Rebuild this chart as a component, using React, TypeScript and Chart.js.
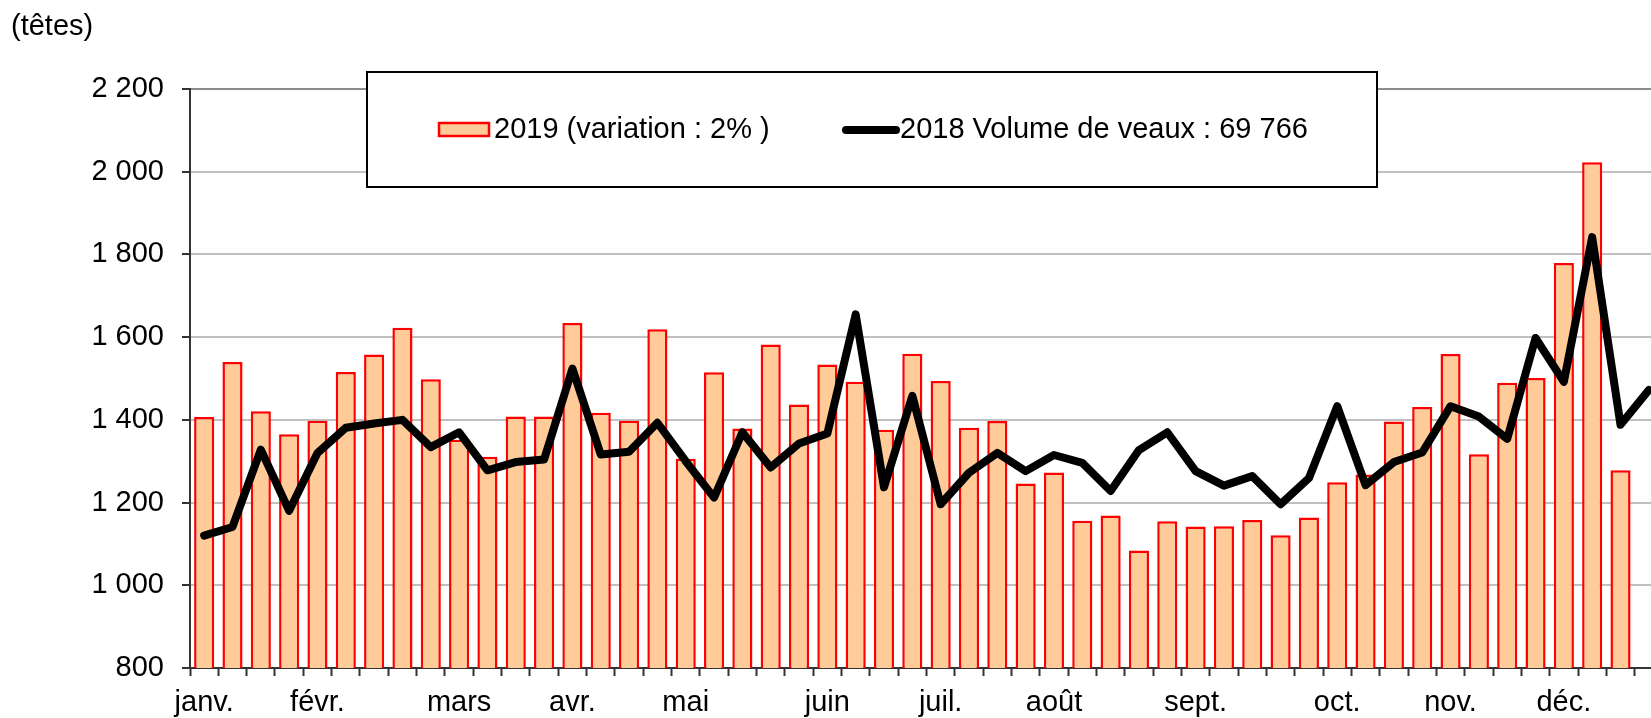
import React, { useEffect, useRef } from "react";
import { Chart, registerables } from "chart.js";

Chart.register(...registerables);

// Weekly categories (weeks 1..52)
const weeks = [
  "1", "2", "3", "4", "5", "6", "7", "8", "9", "10",
  "11", "12", "13", "14", "15", "16", "17", "18", "19", "20",
  "21", "22", "23", "24", "25", "26", "27", "28", "29", "30",
  "31", "32", "33", "34", "35", "36", "37", "38", "39", "40",
  "41", "42", "43", "44", "45", "46", "47", "48", "49", "50",
  "51", "52",
];

// Month tick labels and the week index where each is written
const monthNames = ["janv.", "févr.", "mars", "avr.", "mai", "juin", "juil.", "août", "sept.", "oct.", "nov.", "déc."];
const monthWeekIndex = [0, 4, 9, 13, 17, 22, 26, 30, 35, 40, 44, 48];

// 2019 weekly volumes (bars)
const bars2019 = [
  1407, 1540, 1421, 1365, 1398, 1516, 1558, 1623, 1498, 1352,
  1311, 1408, 1408, 1634, 1417, 1398, 1619, 1306, 1515, 1379,
  1582, 1437, 1534, 1492, 1376, 1560, 1494, 1381, 1397, 1246,
  1273, 1156, 1169, 1084, 1155, 1142, 1143, 1158, 1121, 1164,
  1249, 1268, 1396, 1431, 1559, 1317, 1490, 1501, 1779, 2023,
  1278, null,
];

// 2018 weekly volumes (line)
const line2018 = [
  1120, 1141, 1328, 1180, 1320, 1381, 1391, 1400, 1334, 1370,
  1278, 1298, 1304, 1524, 1316, 1323, 1393, 1300, 1212, 1370,
  1285, 1343, 1367, 1655, 1237, 1458, 1196, 1272, 1320, 1276,
  1315, 1296, 1228, 1327, 1370, 1276, 1241, 1264, 1196, 1259,
  1433, 1242, 1298, 1321, 1433, 1408, 1354, 1598, 1492, 1842,
  1388, 1472,
];

const yTicks = [800, 1000, 1200, 1400, 1600, 1800, 2000, 2200];

const label2019 = "2019 (variation : 2% )";
const label2018 = "2018 Volume de veaux : 69 766";
const unitLabel = "(têtes)";

const FONT = "'Liberation Sans', Arial, Helvetica, sans-serif";

const fmt = (v: number) =>
  v >= 1000 ? `${Math.floor(v / 1000)} ${String(v % 1000).padStart(3, "0")}` : String(v);

const overlayPlugin = {
  id: "overlay",
  afterDraw(chart: any) {
    const ctx = chart.ctx as CanvasRenderingContext2D;
    ctx.save();
    // unit label
    ctx.fillStyle = "#000";
    ctx.font = `29px ${FONT}`;
    ctx.textBaseline = "alphabetic";
    ctx.textAlign = "left";
    ctx.fillText(unitLabel, 11, 35);

    // legend box
    ctx.fillStyle = "#fff";
    ctx.fillRect(367, 72, 1010, 115);
    ctx.strokeStyle = "#000";
    ctx.lineWidth = 2;
    ctx.strokeRect(367, 72, 1010, 115);

    // bar swatch
    ctx.fillStyle = "#FFCC99";
    ctx.fillRect(439, 123, 50, 13);
    ctx.strokeStyle = "#FF0000";
    ctx.lineWidth = 2.5;
    ctx.strokeRect(439, 123, 50, 13);

    ctx.fillStyle = "#000";
    ctx.font = `29px ${FONT}`;
    ctx.fillText(label2019, 494, 138);

    // line swatch
    ctx.strokeStyle = "#000";
    ctx.lineWidth = 8;
    ctx.lineCap = "round";
    ctx.beginPath();
    ctx.moveTo(846, 130);
    ctx.lineTo(896, 130);
    ctx.stroke();

    ctx.fillText(label2018, 900, 138);
    ctx.restore();
  },
};

export default function App() {
  const ref = useRef<HTMLCanvasElement | null>(null);

  useEffect(() => {
    if (!ref.current) return;
    const chart = new Chart(ref.current, {
      type: "bar",
      data: {
        labels: weeks,
        datasets: [
          {
            type: "line",
            label: label2018,
            data: line2018,
            borderColor: "#000",
            backgroundColor: "#000",
            borderWidth: 8,
            pointRadius: 0,
            tension: 0,
            borderJoinStyle: "round",
            borderCapStyle: "round",
            order: 0,
          } as any,
          {
            type: "bar",
            label: label2019,
            data: bars2019,
            backgroundColor: "#FFCC99",
            borderColor: "#FF0000",
            borderWidth: 2.5,
            barPercentage: 0.71,
            categoryPercentage: 1,
            order: 1,
          } as any,
        ],
      },
      options: {
        responsive: false,
        animation: false,
        devicePixelRatio: 1,
        layout: { padding: { top: 89, left: 0, right: 0, bottom: 0 } },
        plugins: {
          legend: { display: false },
          tooltip: { enabled: false },
          title: { display: false },
        },
        scales: {
          x: {
            offset: true,
            grid: {
              offset: true,
              drawOnChartArea: false,
              drawTicks: true,
              tickLength: 8,
              tickColor: "#333",
              tickWidth: 2,
            },
            border: { color: "#333", width: 2 },
            ticks: {
              autoSkip: false,
              maxRotation: 0,
              minRotation: 0,
              padding: 10,
              color: "#000",
              font: { family: FONT, size: 29 },
              callback: (_v: any, i: number) => {
                const k = monthWeekIndex.indexOf(i);
                return k >= 0 ? monthNames[k] : "";
              },
            },
            afterFit: (scale: any) => {
              scale.height = 50;
            },
          },
          y: {
            min: yTicks[0],
            max: yTicks[yTicks.length - 1],
            afterBuildTicks: (scale: any) => {
              scale.ticks = yTicks.map((v) => ({ value: v }));
            },
            grid: {
              color: (c: any) => (c.tick && c.tick.value === 2200 ? "#8c8c8c" : "#c0c0c0"),
              lineWidth: 2,
              tickLength: 8,
              tickColor: "#333",
              tickWidth: 2,
            },
            border: { color: "#333", width: 2 },
            ticks: {
              padding: 18,
              color: "#000",
              font: { family: FONT, size: 29 },
              callback: (v: any) => fmt(Number(v)),
            },
            afterFit: (scale: any) => {
              scale.width = 190;
            },
          },
        },
      },
      plugins: [overlayPlugin],
    });
    return () => chart.destroy();
  }, []);

  return (
    <div
      style={{
        position: "fixed",
        left: 0,
        top: 0,
        width: 1651,
        height: 718,
        overflow: "hidden",
        background: "#fff",
      }}
    >
      <canvas ref={ref} width={1663} height={718} style={{ display: "block", width: 1663, height: 718 }} />
    </div>
  );
}
